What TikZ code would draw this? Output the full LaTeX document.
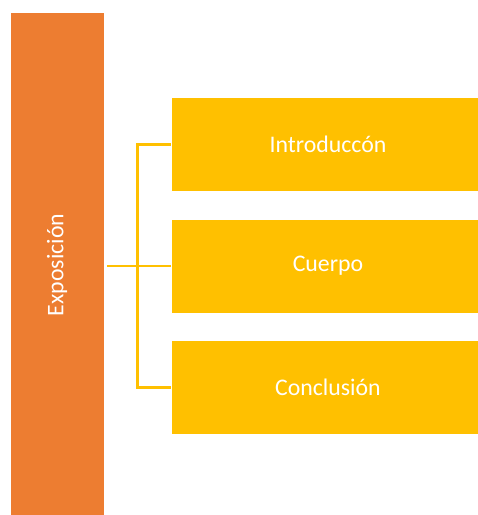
\documentclass[tikz,border=0pt]{standalone}
\usepackage{fontspec}
\setmainfont{Carlito}
\definecolor{orng}{HTML}{ED7D31}
\definecolor{gold}{HTML}{FFC000}
\begin{document}
\begin{tikzpicture}[x=1pt,y=-1pt,
  mainbox/.style={fill=orng,draw=white,line width=0.8pt,minimum width=94pt,minimum height=503pt,inner sep=0pt},
  subbox/.style={fill=gold,draw=white,line width=0.8pt,minimum width=307pt,minimum height=94pt,inner sep=0pt},
  lbl/.style={text=white,font=\fontsize{23.8}{28}\selectfont,inner sep=0pt},
  conn/.style={draw=gold,line width=2.6pt}]
\useasboundingbox (0,0) rectangle (478,515);
\node[mainbox] (main) at (57,263.5) {};
\node[lbl,rotate=90] (mainlbl) at (57,265) {Exposición};
\node[subbox] (intro) at (324.5,144.5) {};
\node[subbox] (body) at (324.5,266) {};
\node[subbox] (concl) at (324.5,387.5) {};
\node[lbl] (introlbl) at ([xshift=3.5pt]intro.center) {Introduccón};
\node[lbl] (bodylbl) at ([xshift=3.5pt]body.center) {Cuerpo};
\node[lbl] (concllbl) at ([xshift=3.5pt]concl.center) {Conclusión};
\coordinate (jx) at (137.5,266);
\draw[conn] (main.east |- body.west) ++(2.5,0) -- (body.west);
\draw[conn] (intro.west) -- (jx |- intro.west) -- (jx |- concl.west) -- (concl.west);
\end{tikzpicture}
\end{document}
